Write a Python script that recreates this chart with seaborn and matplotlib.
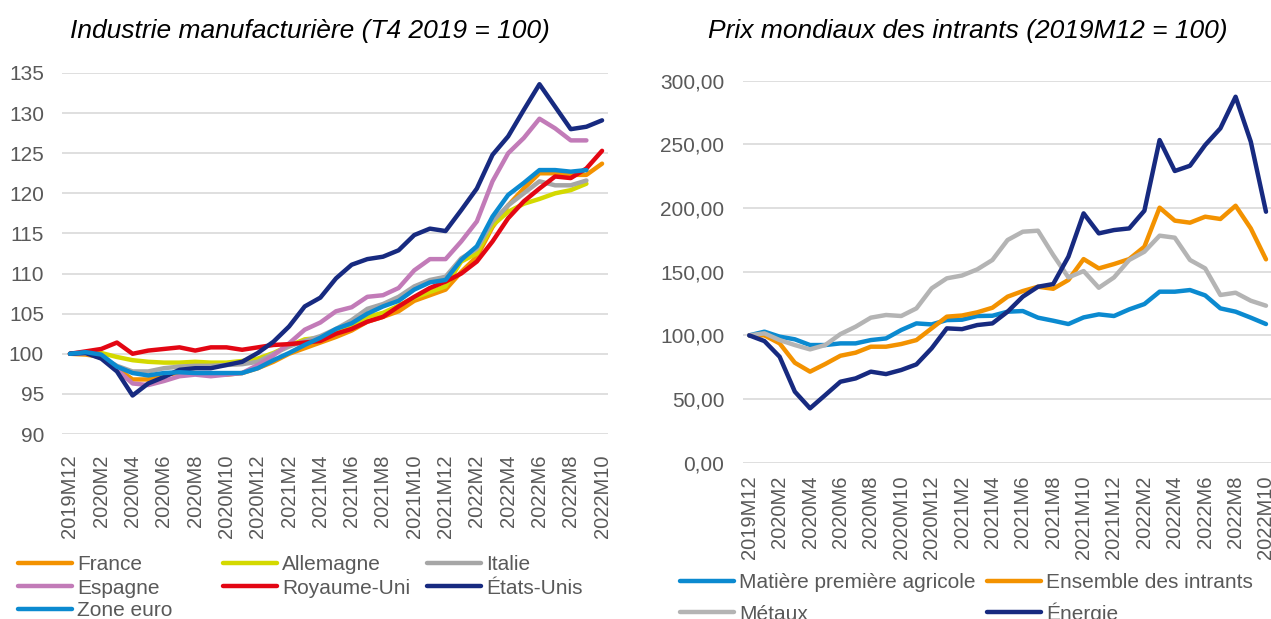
import numpy as np
import pandas as pd
import matplotlib
matplotlib.use("Agg")
import matplotlib.pyplot as plt
from matplotlib.lines import Line2D
import seaborn as sns

nan = np.nan

months = ["2019M12", "2020M1", "2020M2", "2020M3", "2020M4", "2020M5", "2020M6",
          "2020M7", "2020M8", "2020M9", "2020M10", "2020M11", "2020M12",
          "2021M1", "2021M2", "2021M3", "2021M4", "2021M5", "2021M6",
          "2021M7", "2021M8", "2021M9", "2021M10", "2021M11", "2021M12",
          "2022M1", "2022M2", "2022M3", "2022M4", "2022M5", "2022M6",
          "2022M7", "2022M8", "2022M9", "2022M10"]

# industrie manufacturiere (T4 2019 = 100)
france = [100, 99.9, 99.6, 98.2, 96.8, 96.8, 97.4, 97.6, 97.6, 97.4, 97.4, 97.6,
          98.2, 99.0, 100.0, 100.7, 101.4, 102.1, 102.9, 104.0, 104.6, 105.3,
          106.6, 107.3, 108.0, 110.2, 112.1, 115.8, 118.5, 120.6, 122.5, 122.5,
          122.3, 122.3, 123.7]
allemagne = [100, 100.1, 100.1, 99.6, 99.2, 99.0, 98.9, 98.9, 99.0, 98.9, 98.9,
             99.1, 99.4, 100.1, 101.0, 101.8, 102.0, 102.6, 103.4, 104.6, 105.1,
             106.0, 107.0, 107.7, 108.4, 111.5, 112.5, 116.0, 117.7, 118.7,
             119.3, 120.0, 120.4, 121.2, nan]
italie = [100, 100.1, 99.6, 98.5, 97.8, 97.8, 98.2, 98.4, 98.5, 98.5, 98.6, 98.7,
          99.0, 100.0, 100.9, 101.6, 102.2, 103.1, 104.2, 105.6, 106.2, 107.1,
          108.4, 109.2, 109.6, 111.9, 113.1, 116.5, 118.5, 120.0, 121.5, 121.0,
          121.0, 121.6, nan]
espagne = [100, 100.1, 99.5, 98.0, 96.3, 96.1, 96.6, 97.2, 97.4, 97.2, 97.4, 97.6,
           98.6, 99.8, 101.3, 103.0, 103.9, 105.3, 105.8, 107.1, 107.3, 108.2,
           110.4, 111.8, 111.8, 114.0, 116.5, 121.5, 125.0, 126.9, 129.3, 128.1,
           126.6, 126.6, nan]
royaume_uni = [100, 100.3, 100.6, 101.4, 100.0, 100.4, 100.6, 100.8, 100.4, 100.8,
               100.8, 100.5, 100.8, 101.1, 101.2, 101.4, 101.6, 102.5, 103.1,
               104.0, 104.6, 105.9, 107.1, 108.2, 109.0, 110.0, 111.5, 114.0,
               116.9, 119.0, 120.6, 122.1, 121.9, 123.1, 125.3]
etats_unis = [100, 100.1, 99.4, 97.8, 94.8, 96.3, 97.1, 98.0, 98.2, 98.2, 98.6,
              99.0, 100.1, 101.5, 103.4, 105.9, 107.0, 109.4, 111.1, 111.8, 112.1,
              112.9, 114.8, 115.6, 115.3, 117.9, 120.6, 124.8, 127.1, 130.4,
              133.6, 130.8, 128.0, 128.3, 129.1]
zone_euro = [100, 100.2, 99.9, 98.4, 97.6, 97.3, 97.6, 97.7, 97.6, 97.6, 97.6, 97.6,
             98.2, 99.2, 100.1, 101.1, 102.0, 103.1, 103.8, 105.0, 105.9, 106.6,
             108.0, 108.9, 109.2, 111.7, 113.4, 117.1, 119.8, 121.3, 122.9, 122.9,
             122.7, 122.9, nan]

# prix mondiaux des intrants (2019M12 = 100)
agricole = [100, 102.9, 99.0, 96.9, 92.4, 92.4, 93.7, 93.7, 96.3, 97.6, 104.2,
            109.4, 108.6, 112.0, 112.3, 115.2, 115.4, 118.6, 119.1, 113.9, 111.5,
            108.9, 114.1, 116.5, 115.2, 120.4, 124.6, 134.3, 134.3, 135.6, 131.4,
            121.2, 118.6, 113.9, 108.9]
ensemble = [100, 100, 93.7, 78.5, 71.5, 77.5, 84.0, 86.4, 91.1, 91.1, 93.2, 96.3,
            105.5, 114.7, 115.6, 118.1, 121.7, 130.4, 134.8, 138.2, 136.6, 143.5,
            159.9, 152.6, 156.0, 159.9, 169.6, 200.3, 190.1, 188.5, 193.2, 191.4,
            201.8, 184.0, 159.7]
metaux = [100, 101.6, 96.3, 92.4, 89.0, 92.4, 101.0, 106.8, 113.9, 116.0, 115.2,
          121.2, 136.9, 144.8, 147.0, 151.8, 159.2, 174.9, 181.4, 182.2, 163.1,
          145.5, 150.5, 137.4, 145.5, 159.2, 165.7, 178.3, 176.7, 159.2, 152.6,
          131.7, 133.5, 127.2, 123.3]
energie = [100, 95.5, 83.2, 55.8, 42.7, 53.1, 63.6, 66.2, 71.5, 69.6, 72.8, 77.2,
           89.8, 105.5, 104.9, 108.1, 109.4, 118.6, 130.4, 138.2, 140.3, 161.8,
           195.8, 180.1, 182.7, 184.0, 197.9, 253.4, 229.1, 233.2, 249.5, 262.6,
           287.4, 252.1, 197.1]

left_series = {"France": france, "Allemagne": allemagne, "Italie": italie,
               "Espagne": espagne, "Royaume-Uni": royaume_uni,
               "États-Unis": etats_unis, "Zone euro": zone_euro}
left_colors = {"France": "#F39200", "Allemagne": "#D4D900", "Italie": "#A6A6A6",
               "Espagne": "#C27BB8", "Royaume-Uni": "#E30613",
               "États-Unis": "#172A80", "Zone euro": "#0B8AD0"}

right_series = {"Matière première agricole": agricole,
                "Ensemble des intrants": ensemble,
                "Métaux": metaux, "Énergie": energie}
right_colors = {"Matière première agricole": "#0B8AD0",
                "Ensemble des intrants": "#F39200",
                "Métaux": "#B4B4B4", "Énergie": "#172A80"}


def to_long(series):
    rows = []
    for name, vals in series.items():
        for i, v in enumerate(vals):
            rows.append((i, v, name))
    return pd.DataFrame(rows, columns=["t", "valeur", "serie"]).dropna()


sns.set_theme(style="white")
plt.rcParams["font.family"] = ["Liberation Sans", "DejaVu Sans"]
TXT = "#595959"
GRID = "#D9D9D9"
LW = 3.2
W, H = 1271, 619

fig = plt.figure(figsize=(12.71, 6.19), dpi=100)
ax1 = fig.add_axes([62 / W, 1 - 434 / H, 546 / W, 361 / H])
ax2 = fig.add_axes([743 / W, 1 - 462.7 / H, 528 / W, 382 / H])

for ax, series, colors in [(ax1, left_series, left_colors),
                           (ax2, right_series, right_colors)]:
    df = to_long(series)
    sns.lineplot(data=df, x="t", y="valeur", hue="serie",
                 hue_order=list(series.keys()), palette=colors,
                 linewidth=LW, sort=False, legend=False, ax=ax)
    for ln in ax.lines:
        ln.set_solid_joinstyle("round")
        ln.set_solid_capstyle("round")
    ax.set_xlabel("")
    ax.set_ylabel("")
    ax.set_xticks(range(0, len(months), 2))
    ax.set_xticklabels(months[::2], rotation=90)
    ax.grid(axis="y", color=GRID, linewidth=1.2)
    ax.set_axisbelow(True)
    for s in ax.spines.values():
        s.set_visible(False)

ax1.set_ylim(90, 135)
ax1.set_yticks(range(90, 136, 5))
ax1.set_xlim(-0.51, 34.38)
ax1.tick_params(axis="y", length=0, pad=13, labelsize=15, labelcolor=TXT)
ax1.tick_params(axis="x", length=0, pad=15, labelsize=14.5, labelcolor=TXT)

ax2.set_ylim(0, 300)
ax2.set_yticks(range(0, 301, 50))
ax2.set_yticklabels([f"{v},00" for v in range(0, 301, 50)])
ax2.set_xlim(-0.41, 34.33)
ax2.tick_params(axis="y", length=0, pad=13.5, labelsize=15, labelcolor=TXT)
ax2.tick_params(axis="x", length=0, pad=9, labelsize=14.5, labelcolor=TXT)

fig.text(310 / W, 1 - 31 / H, "Industrie manufacturière (T4 2019 = 100)",
         ha="center", va="center", style="italic", fontsize=19, color="black")
fig.text(968 / W, 1 - 31 / H, "Prix mondiaux des intrants (2019M12 = 100)",
         ha="center", va="center", style="italic", fontsize=19, color="black")


# legend entries: handle start x, row centre y (pixels)
def legend_entry(name, color, x, y, size=15):
    fig.add_artist(Line2D([x / W, (x + 54) / W], [1 - y / H, 1 - y / H],
                          transform=fig.transFigure, color=color, lw=LW,
                          solid_capstyle="round"))
    fig.text((x + 59) / W, 1 - (y + 7.5) / H, name, ha="left", va="baseline",
             fontsize=size, color=TXT)


left_pos = {"France": (18, 563), "Allemagne": (223, 563), "Italie": (427, 563),
            "Espagne": (18, 586), "Royaume-Uni": (223, 586),
            "États-Unis": (427, 586), "Zone euro": (18, 609)}
for name, (x, y) in left_pos.items():
    legend_entry(name, left_colors[name], x, y)

right_pos = {"Matière première agricole": (680, 581),
             "Ensemble des intrants": (987, 581),
             "Métaux": (680, 612), "Énergie": (987, 612)}
for name, (x, y) in right_pos.items():
    legend_entry(name, right_colors[name], x, y)

fig.savefig("out.png", dpi=100)
